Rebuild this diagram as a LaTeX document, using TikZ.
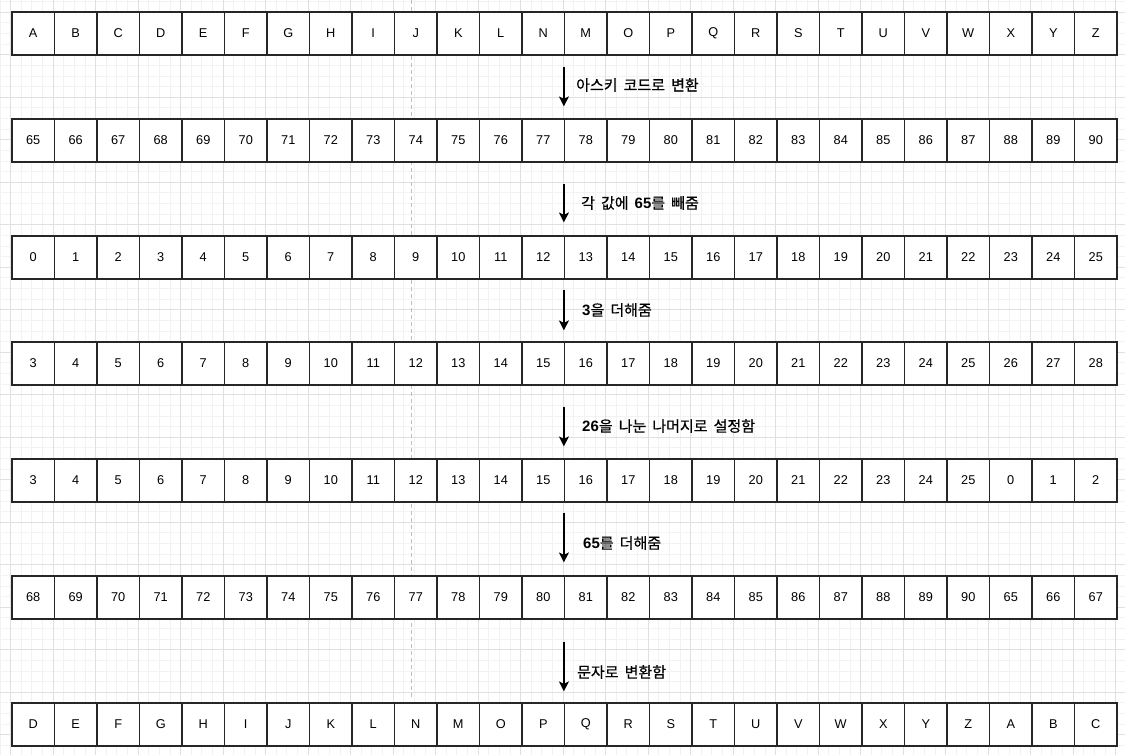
\documentclass[tikz,border=0pt]{standalone}
\usepackage{fontspec}
\setmainfont{Liberation Sans}
\newfontfamily\kr[WordSpace=1.8,FakeBold=0.5]{Noto Sans CJK KR}
\newcommand\numb[1]{{\rmfamily\bfseries #1}}
\usetikzlibrary{arrows.meta}

\tikzset{
  cell/.style={draw=black!85, line width=1.2pt, fill=white, inner sep=0pt,
    minimum width=42.5pt, minimum height=43pt, font=\fontsize{12.75}{15}\selectfont},
  lbl/.style={anchor=west, inner sep=0pt, font=\kr\fontsize{15}{18}\selectfont},
  arr/.style={draw=black, line width=1.2pt, -{Stealth[length=10pt,width=10pt,inset=2.5pt]}},
  minorline/.style={draw=black!5, line width=1pt},
  majorline/.style={draw=black!12, line width=1pt}
}

\begin{document}
\begin{tikzpicture}[x=1pt,y=-1pt]
  \useasboundingbox[fill=white] (0,0) rectangle (1125,755);

  %% background grid
  \foreach \k in {0,...,105} \draw[minorline] (0.07+10.625*\k,0) -- (0.07+10.625*\k,755);
  \foreach \k in {0,...,70}  \draw[minorline] (0,1.7+10.625*\k) -- (1125,1.7+10.625*\k);
  \foreach \k in {0,...,26}  \draw[majorline] (10.7+42.5*\k,0) -- (10.7+42.5*\k,755);
  \foreach \k in {0,...,17}  \draw[majorline] (0,12.3+42.5*\k) -- (1125,12.3+42.5*\k);

  \draw[black!25, line width=1pt, dash pattern=on 4pt off 3pt] (411.3,0) -- (411.3,699);

  %% the seven rows
  \foreach \r/\cy/\vals in {
      1/33.5/{A,B,C,D,E,F,G,H,I,J,K,L,N,M,O,P,Q,R,S,T,U,V,W,X,Y,Z},
      2/140.5/{65,66,67,68,69,70,71,72,73,74,75,76,77,78,79,80,81,82,83,84,85,86,87,88,89,90},
      3/257.5/{0,1,2,3,4,5,6,7,8,9,10,11,12,13,14,15,16,17,18,19,20,21,22,23,24,25},
      4/363.5/{3,4,5,6,7,8,9,10,11,12,13,14,15,16,17,18,19,20,21,22,23,24,25,26,27,28},
      5/480.5/{3,4,5,6,7,8,9,10,11,12,13,14,15,16,17,18,19,20,21,22,23,24,25,0,1,2},
      6/597.5/{68,69,70,71,72,73,74,75,76,77,78,79,80,81,82,83,84,85,86,87,88,89,90,65,66,67},
      7/724.5/{D,E,F,G,H,I,J,K,L,N,M,O,P,Q,R,S,T,U,V,W,X,Y,Z,A,B,C}} {
    \foreach \t [count=\i] in \vals {
      \node [cell] (r\r-\i) at (42.5*\i-9.25,\cy) {\t};
    }
  }

  %% arrows between the rows, at the left edge of box 14
  \foreach \a/\b/\s/\e in {1/2/11/12, 2/3/21/13, 3/4/10/11, 4/5/21/12, 5/6/10/13, 6/7/22/11} {
    \draw[arr] ([yshift=-\s pt]r\a-14.south west) -- ([yshift=\e pt]r\b-14.north west);
  }

  \node [lbl] (l1) at (576,85)  {아스키 코드로 변환};
  \node [lbl] (l2) at (581,203) {각 값에 \numb{65}를 빼줌};
  \node [lbl] (l3) at (582,310) {\numb{3}을 더해줌};
  \node [lbl] (l4) at (582,426) {\numb{26}을 나눈 나머지로 설정함};
  \node [lbl] (l5) at (583,543) {\numb{65}를 더해줌};
  \node [lbl] (l6) at (577,672) {문자로 변환함};
\end{tikzpicture}
\end{document}
